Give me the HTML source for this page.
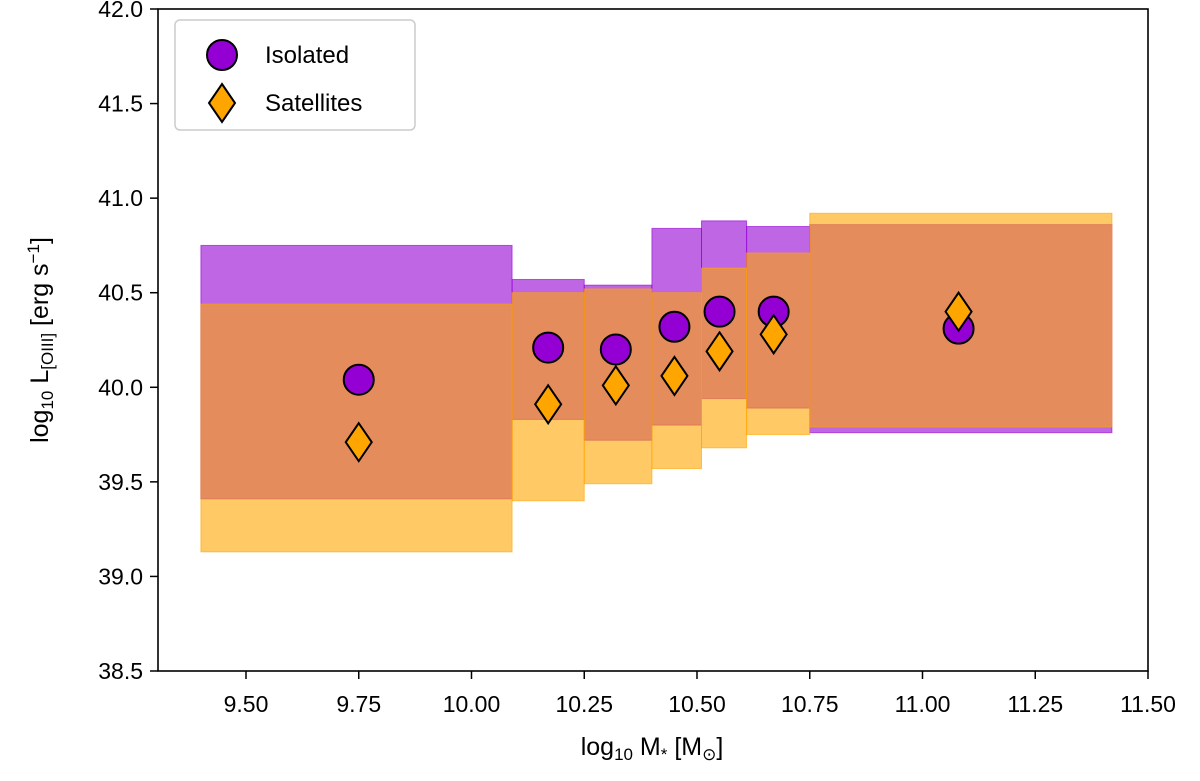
<!DOCTYPE html>
<html><head><meta charset="utf-8"><style>
body{margin:0;background:#fff;}
svg text{font-family:"Liberation Sans","DejaVu Sans",sans-serif;fill:#000;}
</style></head><body>
<svg id="chart" width="1200" height="776" xmlns="http://www.w3.org/2000/svg">
<g id="bands"></g>
<g id="marks"></g>
<g id="axes"></g>
<text x="652" y="755" font-size="25" text-anchor="middle">log<tspan font-size="17" dy="5">10</tspan><tspan dy="-5"> M</tspan><tspan font-size="17" dy="5">*</tspan><tspan dy="-5"> [M</tspan><tspan font-size="17" dy="5">⊙</tspan><tspan dy="-5">]</tspan></text>
<text transform="translate(48,340) rotate(-90)" font-size="25" text-anchor="middle">log<tspan font-size="17" dy="5">10</tspan><tspan dy="-5"> L</tspan><tspan font-size="17" dy="5">[OIII]</tspan><tspan dy="-5"> [erg s</tspan><tspan font-size="17" dy="-9">−1</tspan><tspan dy="9">]</tspan></text>
<g>
<rect x="175" y="20" width="240" height="110" rx="5" fill="#fff" stroke="#ccc" stroke-width="1.5"/>
<circle cx="222" cy="55" r="15" fill="#9400d3" stroke="#000" stroke-width="2"/>
<text x="265" y="63" font-size="24">Isolated</text>
<polygon points="222,84 235,103 222,122 209,103" fill="#ffa500" stroke="#000" stroke-width="2"/>
<text x="265" y="111" font-size="24">Satellites</text>
</g>
</svg>
<script>
const binEdges=[9.4,10.09,10.25,10.4,10.51,10.61,10.75,11.42];
const isoLow=[39.41,39.83,39.72,39.80,39.94,39.89,39.76];
const isoHigh=[40.75,40.57,40.54,40.84,40.88,40.85,40.86];
const satLow=[39.13,39.40,39.49,39.57,39.68,39.75,39.79];
const satHigh=[40.44,40.50,40.52,40.50,40.63,40.71,40.92];
const massX=[9.75,10.17,10.32,10.45,10.55,10.67,11.08];
const isoY=[40.04,40.21,40.20,40.32,40.40,40.40,40.31];
const satY=[39.71,39.91,40.01,40.06,40.19,40.28,40.40];
const xTicks=["9.50","9.75","10.00","10.25","10.50","10.75","11.00","11.25","11.50"];
const yTicks=["38.5","39.0","39.5","40.0","40.5","41.0","41.5","42.0"];
const L=158,R=1148,T=9,B=671,XMIN=9.3049,XMAX=11.5,YMIN=38.5,YMAX=42;
const sx=v=>L+(v-XMIN)/(XMAX-XMIN)*(R-L);
const sy=v=>B-(v-YMIN)/(YMAX-YMIN)*(B-T);
const NS="http://www.w3.org/2000/svg";
function mk(t,a,p){const e=document.createElementNS(NS,t);for(const k in a)e.setAttribute(k,a[k]);p.appendChild(e);return e;}
const bands=document.getElementById('bands'),marks=document.getElementById('marks'),axes=document.getElementById('axes');
for(let i=0;i<isoLow.length;i++){
 const x0=sx(binEdges[i]),x1=sx(binEdges[i+1]);
 const r=mk('rect',{x:x0,y:sy(isoHigh[i]),width:x1-x0,height:sy(isoLow[i])-sy(isoHigh[i]),fill:'#9400d3','fill-opacity':0.6,stroke:'#9400d3','stroke-opacity':0.6},bands);
 
 
}
for(let i=0;i<satLow.length;i++){
 const x0=sx(binEdges[i]),x1=sx(binEdges[i+1]);
 const r=mk('rect',{x:x0,y:sy(satHigh[i]),width:x1-x0,height:sy(satLow[i])-sy(satHigh[i]),fill:'#ffa500','fill-opacity':0.6,stroke:'#ffa500','stroke-opacity':0.6},bands);
 
 
}
for(let i=0;i<massX.length;i++){
 const c=mk('circle',{cx:sx(massX[i]),cy:sy(isoY[i]),r:15,fill:'#9400d3',stroke:'#000','stroke-width':2},marks);
 
 
}
for(let i=0;i<massX.length;i++){
 const x=sx(massX[i]),y=sy(satY[i]);
 const d=mk('polygon',{points:`${x},${y-19} ${x+13},${y} ${x},${y+19} ${x-13},${y}`,fill:'#ffa500',stroke:'#000','stroke-width':2},marks);
 
 
}
const fr=mk('rect',{x:L,y:T,width:R-L,height:B-T,fill:'none',stroke:'#000','stroke-width':1.6},axes);


xTicks.forEach(t=>{const x=sx(parseFloat(t));
 const l=mk('line',{x1:x,x2:x,y1:B,y2:B+8,stroke:'#000','stroke-width':1.5},axes);
 
 
 const tx=mk('text',{x:x,y:B+41,'font-size':23,'text-anchor':'middle'},axes);tx.textContent=t;
 
 
});
yTicks.forEach(t=>{const y=sy(parseFloat(t));
 const l=mk('line',{x1:L-8,x2:L,y1:y,y2:y,stroke:'#000','stroke-width':1.5},axes);
 
 
 const tx=mk('text',{x:L-15,y:y+8,'font-size':23,'text-anchor':'end'},axes);tx.textContent=t;
 
 
});
</script>
</body></html>
